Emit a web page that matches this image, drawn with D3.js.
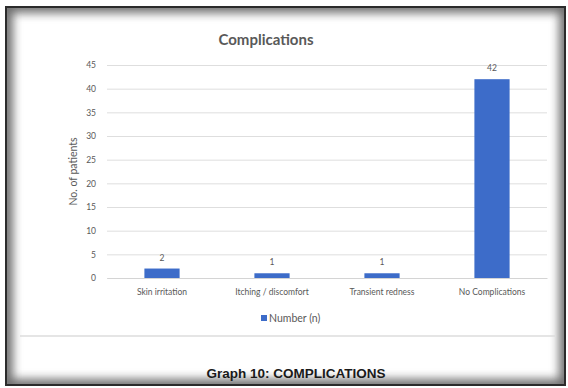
<!DOCTYPE html>
<html>
<head>
<meta charset="utf-8">
<script src="https://cdn.jsdelivr.net/npm/d3@7"></script>
<style>
  html, body { margin: 0; padding: 0; background: #ffffff; }
  svg { display: block; }
</style>
</head>
<body>
<svg id="chart" width="568" height="388"></svg>
<script>
// Complication counts per category
const categories = ["Skin irritation", "Itching / discomfort", "Transient redness", "No Complications"];
const values = [2, 1, 1, 42];
const yTicks = [0, 5, 10, 15, 20, 25, 30, 35, 40, 45];
const seriesName = "Number (n)";
const chartTitle = "Complications";
const yAxisTitle = "No. of patients";
const caption = "Graph 10: COMPLICATIONS";

const W = 568, H = 388;
const svg = d3.select("#chart");
const defs = svg.append("defs");

// Soft inner shadow along the frame
const blur = defs.append("filter").attr("id", "soft")
  .attr("x", "-10%").attr("y", "-10%").attr("width", "120%").attr("height", "120%");
blur.append("feGaussianBlur").attr("stdDeviation", 5);
defs.append("clipPath").attr("id", "inner")
  .append("rect").attr("x", 7).attr("y", 7).attr("width", 558).attr("height", 378);

svg.append("rect").attr("width", W).attr("height", H).attr("fill", "#ffffff");
svg.append("g").attr("clip-path", "url(#inner)")
  .append("rect")
  .attr("x", 6).attr("y", 6).attr("width", 560).attr("height", 380)
  .attr("fill", "none").attr("stroke", "#6f6f6f").attr("stroke-width", 14)
  .attr("filter", "url(#soft)");
svg.append("rect")
  .attr("x", 6).attr("y", 7).attr("width", 559).attr("height", 378)
  .attr("fill", "none").attr("stroke", "#2b2b2b").attr("stroke-width", 2);

// Separator between chart area and caption
svg.append("line")
  .attr("x1", 20).attr("x2", 555).attr("y1", 336).attr("y2", 336)
  .attr("stroke", "#dcdcdc").attr("stroke-width", 1.5);

// Scales
const plot = { left: 107, right: 547, top: 65, bottom: 278 };
const x = d3.scaleBand().domain(categories)
  .range([plot.left, plot.right]).paddingInner(0.68).paddingOuter(0.34);
const y = d3.scaleLinear().domain([0, 45]).range([plot.bottom, plot.top]);

const font = "Lato, 'Open Sans', sans-serif";
const grey = "#595959";

// Gridlines and y tick labels
const yAxis = d3.axisLeft(y).tickValues(yTicks).tickSize(-(plot.right - plot.left)).tickPadding(11);
const gy = svg.append("g").attr("transform", `translate(${plot.left},0)`).call(yAxis);
gy.select(".domain").remove();
gy.selectAll(".tick line").attr("stroke", "#dedede").attr("stroke-width", 1);
gy.selectAll(".tick text").attr("fill", grey).attr("font-family", font).attr("font-size", 8.5);

// x axis labels
const xAxis = d3.axisBottom(x).tickSize(0).tickPadding(11);
const gx = svg.append("g").attr("transform", `translate(0,${plot.bottom})`).call(xAxis);
gx.select(".domain").attr("stroke", "#d4d4d4");
gx.selectAll(".tick text").attr("fill", grey).attr("font-family", font).attr("font-size", 8.5);

// Bars
const barColor = "#3d6cc9";
svg.append("g").selectAll("rect")
  .data(values)
  .join("rect")
  .attr("x", (d, i) => x(categories[i]))
  .attr("width", x.bandwidth())
  .attr("y", d => y(d))
  .attr("height", d => y(0) - y(d))
  .attr("fill", barColor);

// Value labels
svg.append("g").selectAll("text")
  .data(values)
  .join("text")
  .attr("x", (d, i) => x(categories[i]) + x.bandwidth() / 2)
  .attr("y", d => y(d) - 8)
  .attr("text-anchor", "middle")
  .attr("fill", grey).attr("font-family", font).attr("font-size", 8.5)
  .text(d => d);

// Chart title
svg.append("text")
  .attr("x", 266).attr("y", 45)
  .attr("text-anchor", "middle")
  .attr("fill", grey).attr("font-family", font).attr("font-weight", "bold").attr("font-size", 15)
  .text(chartTitle);

// Y axis title
svg.append("text")
  .attr("transform", `translate(77,${(plot.top + plot.bottom) / 2}) rotate(-90)`)
  .attr("text-anchor", "middle")
  .attr("fill", grey).attr("font-family", font).attr("font-size", 10.5)
  .text(yAxisTitle);

// Legend
const legend = svg.append("g").attr("transform", "translate(261,319)");
legend.append("rect").attr("x", 0).attr("y", -4).attr("width", 6).attr("height", 6).attr("fill", barColor);
legend.append("text").attr("x", 8).attr("y", 2.5)
  .attr("fill", grey).attr("font-family", font).attr("font-size", 10.5)
  .text(seriesName);

// Caption
svg.append("text")
  .attr("x", 296).attr("y", 378)
  .attr("text-anchor", "middle")
  .attr("fill", "#1a1a1a").attr("font-family", "'Liberation Sans', Arial, sans-serif")
  .attr("font-weight", "bold").attr("font-size", 13.5)
  .text(caption);
</script>
</body>
</html>
